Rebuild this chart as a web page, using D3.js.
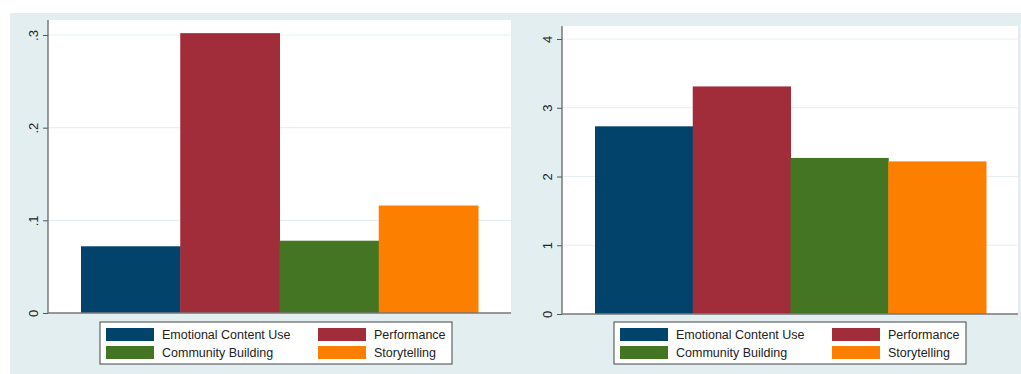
<!DOCTYPE html>
<html>
<head>
<meta charset="utf-8">
<script src="https://cdn.jsdelivr.net/npm/d3@7/dist/d3.min.js"></script>
<style>
  body { margin: 0; background: #fff; }
  svg { display: block; font-family: "Liberation Sans", Arial, sans-serif; }
</style>
</head>
<body>
<div id="chart"></div>
<script>
// groups shown in both panels
const categories = ["Emotional Content Use", "Performance", "Community Building", "Storytelling"];
const colors = ["#02436b", "#a12c3a", "#447523", "#fd7f00"];

// left panel (proportions)
const leftValues = [0.072, 0.302, 0.078, 0.116];
const leftTicks = [0, 0.1, 0.2, 0.3];
const leftTickLabels = ["0", ".1", ".2", ".3"];

// right panel (means)
const rightValues = [2.73, 3.31, 2.27, 2.22];
const rightTicks = [0, 1, 2, 3, 4];
const rightTickLabels = ["0", "1", "2", "3", "4"];

const W = 1021, H = 374;

const svg = d3.select("#chart")
    .append("svg")
    .attr("width", W)
    .attr("height", H);

// graph region background
svg.append("rect")
    .attr("x", 10).attr("y", 13)
    .attr("width", W - 10).attr("height", H - 13)
    .attr("fill", "#e3eef0");

function drawPanel(p) {
  const g = svg.append("g");

  // plot region
  g.append("rect")
      .attr("x", p.left).attr("y", p.top)
      .attr("width", p.right - p.left).attr("height", p.base - p.top)
      .attr("fill", "#fff");

  const y = d3.scaleLinear()
      .domain([0, p.ticks[p.ticks.length - 1]])
      .range([p.base, p.tickTop]);

  const x = d3.scaleBand()
      .domain(p.categories)
      .range([p.barLeft, p.barRight])
      .padding(0);

  // gridlines
  g.selectAll("line.grid")
      .data(p.ticks.slice(1))
      .enter().append("line")
      .attr("class", "grid")
      .attr("x1", p.left).attr("x2", p.right)
      .attr("y1", d => y(d)).attr("y2", d => y(d))
      .attr("stroke", "#e6eff1")
      .attr("stroke-width", 1.2);

  // bars
  g.selectAll("rect.bar")
      .data(p.values)
      .enter().append("rect")
      .attr("class", "bar")
      .attr("x", (d, i) => x(p.categories[i]))
      .attr("width", x.bandwidth() + 0.5)
      .attr("y", d => y(d))
      .attr("height", d => p.base - y(d))
      .attr("fill", (d, i) => p.colors[i]);

  // y axis
  const axis = d3.axisLeft(y)
      .tickValues(p.ticks)
      .tickFormat((d, i) => p.tickLabels[i])
      .tickSize(5)
      .tickPadding(0);

  const ag = g.append("g")
      .attr("transform", `translate(${p.left},0)`)
      .call(axis);
  ag.select(".domain").remove();
  ag.selectAll(".tick line").attr("stroke", "#555");
  ag.selectAll(".tick text")
      .attr("x", 0).attr("dy", 0)
      .attr("transform", "translate(-15,0) rotate(-90)")
      .attr("text-anchor", "middle")
      .attr("dominant-baseline", "central")
      .attr("font-size", 13)
      .attr("fill", "#222");

  g.append("line")
      .attr("x1", p.left).attr("x2", p.left)
      .attr("y1", p.top).attr("y2", p.base)
      .attr("stroke", "#666").attr("stroke-width", 1.3);
  g.append("line")
      .attr("x1", p.left).attr("x2", p.right)
      .attr("y1", p.base).attr("y2", p.base)
      .attr("stroke", "#777").attr("stroke-width", 1.3);

  // legend
  const lg = g.append("g").attr("transform", `translate(${p.legendX},322)`);
  lg.append("rect")
      .attr("x", 0).attr("y", 0)
      .attr("width", 352).attr("height", 42)
      .attr("fill", "#fff")
      .attr("stroke", "#444").attr("stroke-width", 1);

  const items = lg.selectAll("g.item")
      .data(p.categories)
      .enter().append("g")
      .attr("class", "item")
      .attr("transform", (d, i) => `translate(${i % 2 ? 218 : 6},${i < 2 ? 6 : 24})`);
  items.append("rect")
      .attr("width", 48).attr("height", 13)
      .attr("fill", (d, i) => p.colors[i]);
  items.append("text")
      .attr("x", 56).attr("y", 11)
      .attr("font-size", 12.5)
      .attr("fill", "#222")
      .text(d => d);
}

drawPanel({
  categories, colors,
  values: leftValues, ticks: leftTicks, tickLabels: leftTickLabels,
  left: 48, right: 511, top: 20, base: 313, tickTop: 35,
  barLeft: 81, barRight: 478, legendX: 100
});

drawPanel({
  categories, colors,
  values: rightValues, ticks: rightTicks, tickLabels: rightTickLabels,
  left: 562, right: 1018, top: 26, base: 314, tickTop: 39,
  barLeft: 595, barRight: 986, legendX: 614
});
</script>
</body>
</html>
